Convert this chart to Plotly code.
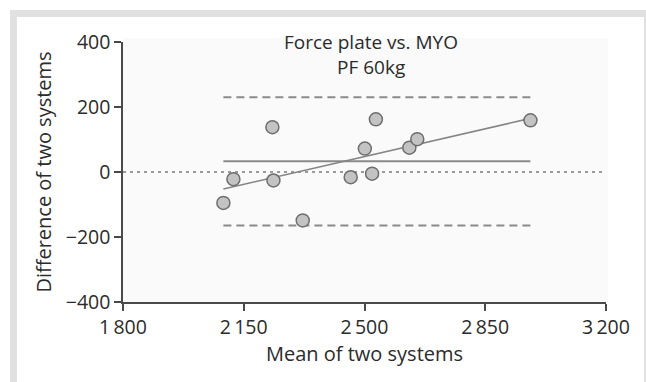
import numpy as np
import plotly.graph_objects as go

# ---- data ----
mean_vals = [2091, 2120, 2233, 2236, 2321, 2460, 2501, 2522, 2533, 2630, 2653, 2981]
diff_vals = [-95, -22, 138, -26, -149, -16, 72, -5, 162, 75, 101, 159]
x_ticks = [1800, 2150, 2500, 2850, 3200]
x_tick_text = ["1\u2009800", "2\u2009150", "2\u2009500", "2\u2009850", "3\u2009200"]
y_ticks = [-400, -200, 0, 200, 400]
y_tick_text = ["\u2212400", "\u2212200", "0", "200", "400"]
title_lines = ["Force plate vs. MYO", "PF 60kg"]
x_title = "Mean of two systems"
y_title = "Difference of two systems"

mx = np.array(mean_vals, dtype=float)
dy = np.array(diff_vals, dtype=float)
bias = dy.mean()
sd = dy.std(ddof=1)
upper = bias + 1.96 * sd
lower = bias - 1.96 * sd
slope, intercept = np.polyfit(mx, dy, 1)
xr = [mx.min(), mx.max()]

FONT = "Open Sans"
TXT = "#2b2b2b"
AX = "#4a4a4a"
FS = 19.5

fig = go.Figure()
# zero reference line (dotted)
fig.add_trace(go.Scatter(x=[x_ticks[0], x_ticks[-1]], y=[0, 0], mode="lines",
                         line=dict(color="#9a9a9a", width=2, dash="3px,4px"), hoverinfo="skip"))
# limits of agreement
for v in (upper, lower):
    fig.add_trace(go.Scatter(x=xr, y=[v, v], mode="lines",
                             line=dict(color="#8a8a8a", width=2, dash="8px,5px"), hoverinfo="skip"))
# bias
fig.add_trace(go.Scatter(x=xr, y=[bias, bias], mode="lines",
                         line=dict(color="#8a8a8a", width=2), hoverinfo="skip"))
# regression
fig.add_trace(go.Scatter(x=xr, y=[intercept + slope * xr[0], intercept + slope * xr[1]], mode="lines",
                         line=dict(color="#858585", width=1.6), hoverinfo="skip"))
# points
fig.add_trace(go.Scatter(x=mean_vals, y=diff_vals, mode="markers",
                         marker=dict(size=13, color="#c3c3c3", line=dict(color="#6e6e6e", width=1.5))))

W, H = 646, 382
L, R, T, B = 123, 40, 42, 80
pw, ph = W - L - R, H - T - B


def px(x):
    return (x - L) / pw


def py(y):
    return (H - B - y) / ph


shapes = [
    dict(type="rect", xref="paper", yref="paper", x0=px(10), x1=px(W + 5), y0=py(H + 5), y1=py(10),
         fillcolor="#e1e1e1", line=dict(width=0), layer="below"),
    dict(type="rect", xref="paper", yref="paper", x0=px(17), x1=px(644), y0=py(H + 5), y1=py(17),
         fillcolor="#ffffff", line=dict(width=0), layer="below"),
    dict(type="rect", xref="paper", yref="paper", x0=px(L), x1=px(608), y0=py(H - B), y1=py(38),
         fillcolor="#fafafa", line=dict(width=0), layer="below"),
]

TFS = 19
annotations = [
    dict(text=title_lines[0], xref="paper", yref="paper", x=px(371), y=py(41.5),
         xanchor="center", yanchor="middle", showarrow=False, borderpad=0,
         font=dict(family=FONT, size=TFS, color=TXT)),
    dict(text=title_lines[1], xref="paper", yref="paper", x=px(371), y=py(66.5),
         xanchor="center", yanchor="middle", showarrow=False, borderpad=0,
         font=dict(family=FONT, size=TFS, color=TXT)),
]

fig.update_layout(
    width=W, height=H,
    margin=dict(l=L, r=R, t=T, b=B, pad=0),
    paper_bgcolor="#ffffff", plot_bgcolor="rgba(0,0,0,0)",
    showlegend=False,
    font=dict(family=FONT, size=FS, color=TXT),
    shapes=shapes,
    annotations=annotations,
)
fig.update_xaxes(range=[x_ticks[0], x_ticks[-1]], tickvals=x_ticks, ticktext=x_tick_text,
                 showline=True, linecolor=AX, linewidth=1.5, ticks="outside", ticklen=7,
                 tickwidth=1.5, tickcolor=AX, showgrid=False, zeroline=False,
                 title=dict(text=x_title, standoff=8, font=dict(family=FONT, size=20, color=TXT)),
                 automargin=False,
                 tickfont=dict(family=FONT, size=FS, color=TXT))
fig.update_yaxes(range=[y_ticks[0], y_ticks[-1]], tickvals=y_ticks, ticktext=y_tick_text,
                 showline=True, linecolor=AX, linewidth=1.5, ticks="outside", ticklen=7,
                 tickwidth=1.5, tickcolor=AX, showgrid=False, zeroline=False,
                 title=dict(text=y_title, standoff=9, font=dict(family=FONT, size=20, color=TXT)),
                 automargin=False,
                 tickfont=dict(family=FONT, size=FS, color=TXT))

fig.write_html("out.html")
